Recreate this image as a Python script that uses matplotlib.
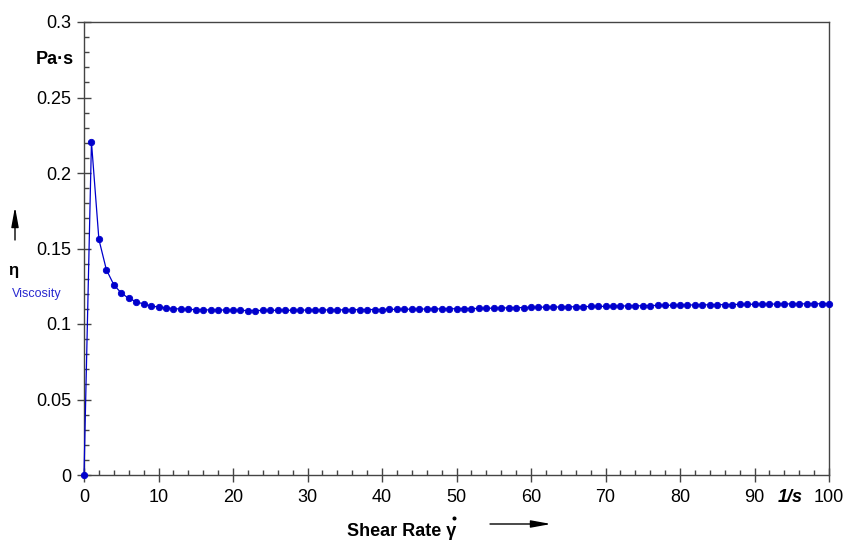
import matplotlib
matplotlib.use("Agg")
import matplotlib.pyplot as plt
from matplotlib.lines import Line2D
from matplotlib.ticker import MultipleLocator

plt.rcParams['font.family'] = ['Liberation Sans', 'DejaVu Sans']

shear_rate = list(range(0, 101))
viscosity = [
    0.0, 0.2205, 0.156, 0.136, 0.126, 0.1205, 0.117, 0.1148, 0.1132, 0.112,
    0.1112, 0.1106, 0.1102, 0.1099, 0.1097, 0.1095, 0.1094, 0.1093, 0.1093, 0.1092,
    0.1091, 0.1090, 0.1089, 0.1089, 0.1090, 0.1090, 0.1091, 0.1091, 0.1091, 0.1092,
    0.1092, 0.1092, 0.1093, 0.1093, 0.1093, 0.1094, 0.1094, 0.1095, 0.1095, 0.1096,
    0.1096, 0.1097, 0.1097, 0.1098, 0.1098, 0.1099, 0.1099, 0.1100, 0.1100, 0.1101,
    0.1101, 0.1102, 0.1102, 0.1103, 0.1104, 0.1105, 0.1106, 0.1107, 0.1108, 0.1109,
    0.1110, 0.1111, 0.1112, 0.1112, 0.1113, 0.1114, 0.1114, 0.1115, 0.1116, 0.1116,
    0.1117, 0.1118, 0.1119, 0.1120, 0.1120, 0.1121, 0.1122, 0.1123, 0.1124, 0.1124,
    0.1125, 0.1126, 0.1126, 0.1127, 0.1127, 0.1128, 0.1128, 0.1129, 0.1130, 0.1130,
    0.1131, 0.1131, 0.1132, 0.1132, 0.1133, 0.1133, 0.1133, 0.1134, 0.1134, 0.1134,
    0.1134,
]
y_ticks = [0, 0.05, 0.1, 0.15, 0.2, 0.25, 0.3]
y_ticklabels = ["0", "0.05", "0.1", "0.15", "0.2", "0.25", "0.3"]
x_ticks = [0, 10, 20, 30, 40, 50, 60, 70, 80, 90, 100]
x_ticklabels = ["0", "10", "20", "30", "40", "50", "60", "70", "80", "90", "100"]

W, H = 844, 541
fig = plt.figure(figsize=(W / 100, H / 100), dpi=100)
ax = fig.add_axes([84 / W, 1 - 475 / H, (829 - 84) / W, (475 - 22) / H])

blue = '#0000cc'
ax.plot(shear_rate, viscosity, color=blue, lw=0.9, marker='o', ms=4.6, mew=0.6,
        mec=blue, mfc=blue, clip_on=False, zorder=3)

ax.set_xlim(0, 100)
ax.set_ylim(0, 0.3)
ax.set_yticks(y_ticks)
ax.set_yticklabels(y_ticklabels)
ax.set_xticks(x_ticks)
ax.set_xticklabels(x_ticklabels)
ax.yaxis.set_minor_locator(MultipleLocator(0.01))
ax.xaxis.set_minor_locator(MultipleLocator(2))

spine_color = '#444444'
for s in ax.spines.values():
    s.set_color(spine_color)
    s.set_linewidth(1.0)

ax.tick_params(which='major', direction='inout', length=10, width=1.0,
               color=spine_color, labelsize=13)
ax.tick_params(axis='y', which='major', pad=4)
ax.tick_params(axis='x', which='major', pad=5)
ax.tick_params(which='minor', direction='in', length=3.5, width=1.0,
               color=spine_color)


def fx(px):
    return px / W


def fy(py):
    return 1 - py / H


fig.text(fx(55), fy(60), "Pa·s", fontsize=13, fontweight='bold',
         ha='center', va='center')
fig.text(fx(13), fy(270), "η", fontsize=12, fontweight='bold',
         ha='center', va='center')
fig.text(fx(37), fy(294), "Viscosity", fontsize=9, color='#2a2ad0',
         ha='center', va='center')
fig.text(fx(790), fy(497), "1/s", fontsize=13, fontweight='bold',
         style='italic', ha='center', va='center')
fig.text(fx(347), fy(532), "Shear Rate γ", fontsize=13,
         fontweight='bold', ha='left', va='center')
# the dot of the time-derivative over gamma
fig.add_artist(Line2D([fx(454)], [fy(518)], marker='o', ms=1.9, color='black',
                      mec='black', transform=fig.transFigure))

arrow_style = '-|>,head_length=1.2,head_width=0.22'
ax.annotate("", xy=(fx(15), fy(207)), xytext=(fx(15), fy(240)),
            xycoords='figure fraction', textcoords='figure fraction',
            arrowprops=dict(arrowstyle=arrow_style, color='black', lw=1.0,
                            shrinkA=0, shrinkB=0), annotation_clip=False)
ax.annotate("", xy=(fx(551), fy(524)), xytext=(fx(490), fy(524)),
            xycoords='figure fraction', textcoords='figure fraction',
            arrowprops=dict(arrowstyle=arrow_style, color='black', lw=1.0,
                            shrinkA=0, shrinkB=0), annotation_clip=False)

fig.savefig("out.png", dpi=100)
